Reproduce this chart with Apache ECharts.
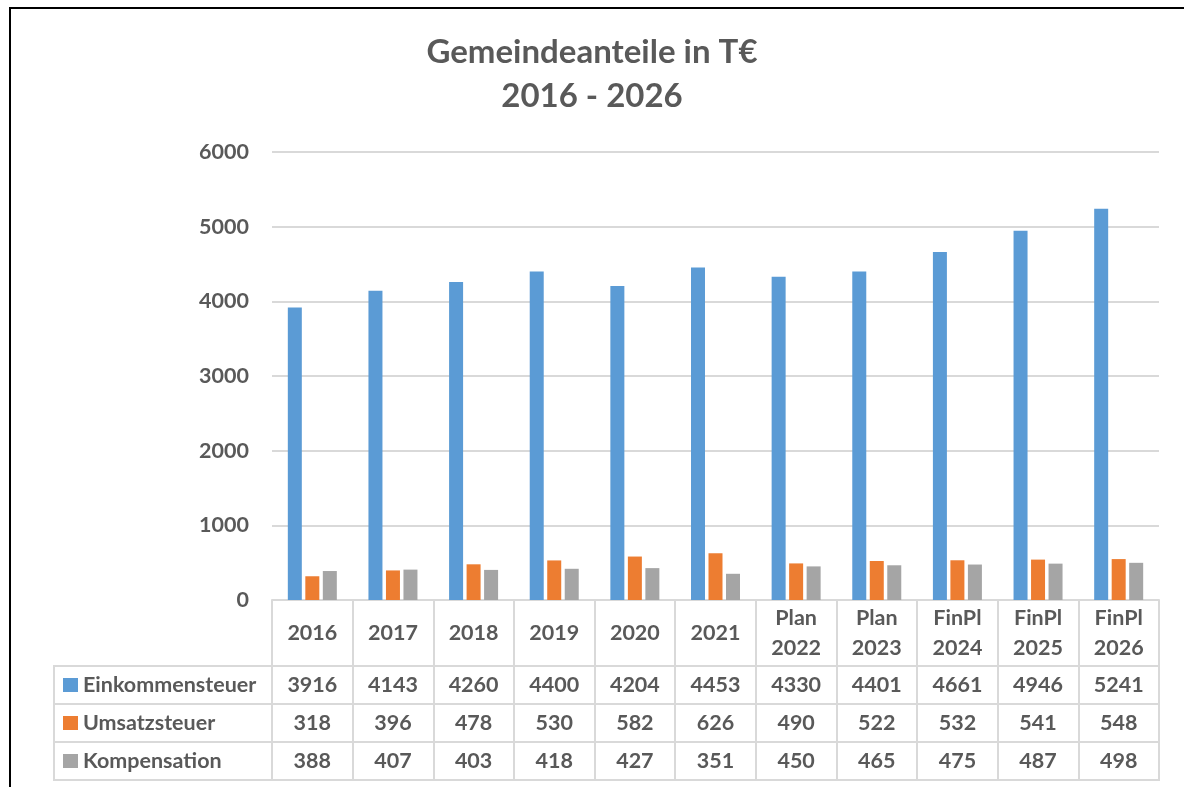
<!DOCTYPE html>
<html>
<head>
<meta charset="utf-8">
<script src="https://cdn.jsdelivr.net/npm/echarts@6/dist/echarts.min.js"></script>
<style>html,body{margin:0;padding:0;background:#fff;}#chart{width:1184px;height:787px;}</style>
</head>
<body>
<div id="chart"></div>
<script>
const titleText = 'Gemeindeanteile in T€\n2016 - 2026';
const categories = ['2016','2017','2018','2019','2020','2021','Plan\n2022','Plan\n2023','FinPl\n2024','FinPl\n2025','FinPl\n2026'];
const seriesNames = ['Einkommensteuer','Umsatzsteuer','Kompensation'];
const einkommensteuer = [3916,4143,4260,4400,4204,4453,4330,4401,4661,4946,5241];
const umsatzsteuer = [318,396,478,530,582,626,490,522,532,541,548];
const kompensation = [388,407,403,418,427,351,450,465,475,487,498];
const yMin = 0, yMax = 6000, yStep = 1000;

const colors = ['#5b9bd5','#ed7d31','#a5a5a5'];
const textColor = '#595959';
const lineColor = '#d9d9d9';
const font = 'Lato';
const fs = 21.5;
const valueArrays = [einkommensteuer, umsatzsteuer, kompensation];
const rowOffsets = [85, 123, 161];
const rowCenters = [685, 723, 761];

const valueAxes = valueArrays.map((arr, i) => ({
  type: 'category', gridIndex: 0, position: 'bottom', offset: rowOffsets[i],
  data: arr.map(String),
  axisLine: {show: false}, axisTick: {show: false}, splitLine: {show: false},
  axisLabel: {interval: 0, margin: 0, verticalAlign: 'middle', color: textColor,
    fontFamily: font, fontWeight: 'bold', fontSize: fs}
}));

const option = {
  animation: false,
  backgroundColor: '#fff',
  color: colors,
  title: {
    text: titleText, left: 'center', top: 30, padding: [0,0,0,14],
    textStyle: {fontFamily: font, fontWeight: 'bold', fontSize: 33, lineHeight: 44, color: textColor}
  },
  legend: seriesNames.map((n, i) => ({
    data: [n], left: 63, top: rowCenters[i] - 11, padding: 0, selectedMode: false,
    icon: 'rect', itemWidth: 15, itemHeight: 14,
    textStyle: {fontFamily: font, fontWeight: 'bold', fontSize: fs, lineHeight: 22, color: textColor}
  })),
  grid: [
    {left: 272, right: 25, top: 152, bottom: 187, containLabel: false},
    {left: 54, top: 666, width: 1105, height: 114, show: true, borderColor: lineColor, borderWidth: 2, backgroundColor: 'transparent'}
  ],
  xAxis: [
    {
      type: 'category', gridIndex: 0, data: categories, position: 'bottom',
      axisLine: {show: true, lineStyle: {color: lineColor, width: 2}},
      axisTick: {show: true, interval: 0, length: 180, lineStyle: {color: lineColor, width: 2}},
      axisLabel: {interval: 0, margin: 33, verticalAlign: 'middle', lineHeight: 30, color: textColor,
        fontFamily: font, fontWeight: 'bold', fontSize: fs}
    },
    ...valueAxes,
    {type: 'value', gridIndex: 1, show: false}
  ],
  yAxis: [
    {
      type: 'value', gridIndex: 0, min: yMin, max: yMax, interval: yStep,
      axisLine: {show: false}, axisTick: {show: false},
      splitLine: {lineStyle: {color: lineColor, width: 2}},
      axisLabel: {margin: 23, color: textColor, fontFamily: font, fontWeight: 'bold', fontSize: fs,
        formatter: v => String(v)}
    },
    {
      type: 'category', gridIndex: 1, data: seriesNames, inverse: true,
      axisLine: {show: false}, axisTick: {show: false}, axisLabel: {show: false},
      splitLine: {show: true, interval: 0, lineStyle: {color: lineColor, width: 2}}
    }
  ],
  graphic: [{
    type: 'rect', left: 9, top: 7, silent: true, z: 100,
    shape: {width: 1300, height: 900},
    style: {fill: 'transparent', stroke: '#000', lineWidth: 2}
  }],
  series: valueArrays.map((arr, i) => ({
    name: seriesNames[i], type: 'bar', xAxisIndex: 0, yAxisIndex: 0,
    data: arr, barWidth: 14, barGap: '25%',
    itemStyle: {color: colors[i]}
  }))
};

const chart = echarts.init(document.getElementById('chart'), null, {renderer: 'canvas'});
chart.setOption(option);
</script>
</body>
</html>
